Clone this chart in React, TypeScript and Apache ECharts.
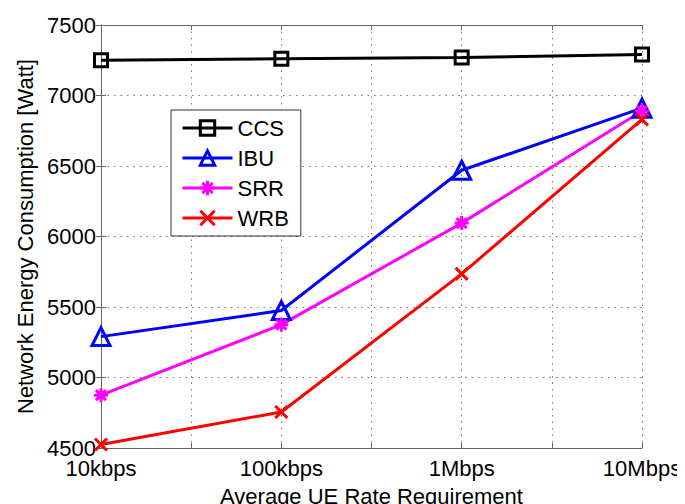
import React, { useEffect, useRef } from "react";
import * as echarts from "echarts";

const categories = ["10kbps", "100kbps", "1Mbps", "10Mbps"];
const ccs = [7250, 7260, 7270, 7290];
const ibu = [5290, 5475, 6470, 6910];
const srr = [4875, 5375, 6095, 6890];
const wrb = [4525, 4755, 5735, 6830];
const yTicks = { min: 4500, max: 7500, interval: 500 };

const FONT = "Liberation Sans";
const asterisk = "path://M7,0L7,14M0,7L14,7M2,2L12,12M12,2L2,12";
const cross = "path://M0,0L12,12M12,0L0,12";

function toPairs(vals: number[]) {
  return vals.map((v, i) => [i, v]);
}

export default function App() {
  const ref = useRef<HTMLDivElement>(null);
  useEffect(() => {
    if (!ref.current) return;
    const chart = echarts.init(ref.current, null, { renderer: "svg" });
    const mk = (
      name: string,
      vals: number[],
      color: string,
      symbol: string,
      size: number
    ) => ({
      name,
      type: "line",
      data: toPairs(vals),
      symbol,
      symbolSize: size,
      showAllSymbol: true,
      lineStyle: { color, width: 3 },
      itemStyle: { color: "rgba(0,0,0,0)", borderColor: color, borderWidth: 3 },
      emphasis: { disabled: true },
      z: 3,
    });
    const gridLine = { show: true, lineStyle: { color: "#777", type: [1.5, 5], width: 1 } };
    const legendItem = (name: string) => ({
      name,
      lineStyle: { width: 3 },
      itemStyle: { borderWidth: 3 },
    });
    chart.setOption({
      animation: false,
      backgroundColor: "#fff",
      textStyle: { fontFamily: FONT },
      grid: { left: 101, right: 43, top: 25, bottom: 56, containLabel: false, outerBoundsMode: "none" },
      legend: {
        orient: "vertical",
        left: 171,
        top: 110,
        padding: [7, 12, 7, 10],
        itemGap: 8,
        itemWidth: 50,
        itemHeight: 18,
        backgroundColor: "#fff",
        borderColor: "#333",
        borderWidth: 1,
        textStyle: { fontFamily: FONT, fontSize: 22, color: "#000" },
        data: ["CCS", "IBU", "SRR", "WRB"].map(legendItem),
      },
      xAxis: [
        {
          type: "value",
          min: 0,
          max: 3,
          interval: 0.5,
          axisLine: { show: true, lineStyle: { color: "#666", width: 1 } },
          axisTick: { show: true, inside: true, length: 5, lineStyle: { color: "#666" } },
          axisLabel: {
            color: "#000",
            fontFamily: FONT,
            fontSize: 22,
            margin: 9,
            formatter: (v: number) => (Number.isInteger(v) ? categories[v] : ""),
          },
          splitLine: gridLine,
          name: "Average UE Rate Requirement",
          nameLocation: "middle",
          nameGap: 37,
          nameTextStyle: { color: "#000", fontFamily: FONT, fontSize: 22 },
        },
        {
          type: "value",
          position: "top",
          min: 0,
          max: 3,
          interval: 0.5,
          axisLine: { show: true, lineStyle: { color: "#666", width: 1 } },
          axisTick: { show: true, inside: true, length: 5, lineStyle: { color: "#666" } },
          axisLabel: { show: false },
          splitLine: { show: false },
        },
      ],
      yAxis: [
        {
          type: "value",
          min: yTicks.min,
          max: yTicks.max,
          interval: yTicks.interval,
          axisLine: { show: true, lineStyle: { color: "#666", width: 1 } },
          axisTick: { show: true, inside: true, length: 5, lineStyle: { color: "#666" } },
          axisLabel: {
            color: "#000",
            fontFamily: FONT,
            fontSize: 22,
            margin: 5,
            formatter: (v: number) => String(v),
          },
          splitLine: gridLine,
          name: "Network Energy Consumption [Watt]",
          nameLocation: "middle",
          nameGap: 63,
          nameTextStyle: { color: "#000", fontFamily: FONT, fontSize: 22 },
        },
        {
          type: "value",
          position: "right",
          min: yTicks.min,
          max: yTicks.max,
          interval: yTicks.interval,
          axisLine: { show: true, lineStyle: { color: "#666", width: 1 } },
          axisTick: { show: true, inside: true, length: 5, lineStyle: { color: "#666" } },
          axisLabel: { show: false },
          splitLine: { show: false },
        },
      ],
      series: [
        mk("CCS", ccs, "#000000", "rect", 13),
        mk("IBU", ibu, "#0000ff", "triangle", 18),
        mk("SRR", srr, "#ff00ff", asterisk, 14),
        mk("WRB", wrb, "#ff0000", cross, 12),
      ],
    });
    return () => chart.dispose();
  }, []);
  return <div ref={ref} style={{ width: 685, height: 504, marginLeft: -8, marginTop: -8 }} />;
}
